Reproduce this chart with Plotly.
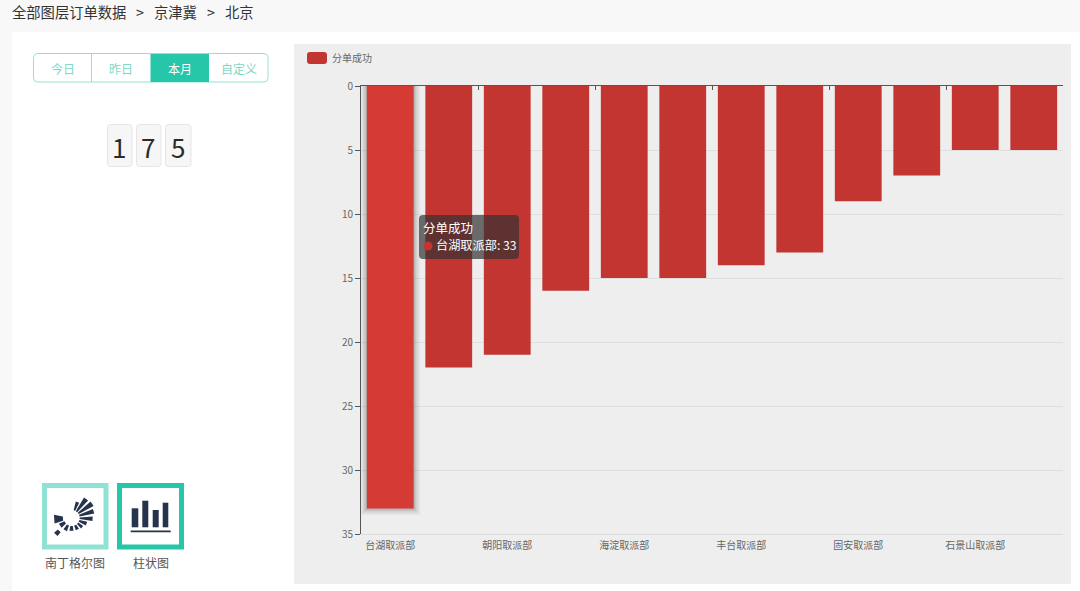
import math
import plotly.graph_objects as go

# Data
categories = ['台湖取派部', '通州取派部', '朝阳取派部', '昌平取派部', '海淀取派部', '大兴取派部',
              '丰台取派部', '顺义取派部', '固安取派部', '房山取派部', '石景山取派部', '门头沟取派部']
values = [33, 22, 21, 16, 15, 15, 14, 13, 9, 7, 5, 5]
tick_labels = ['台湖取派部', '朝阳取派部', '海淀取派部', '丰台取派部', '固安取派部', '石景山取派部']
boundary_ticks = [1.5, 3.5, 5.5, 7.5, 9.5, 11.5]
y_ticks = [0, 5, 10, 15, 20, 25, 30, 35]
series_name = '分单成功'
range_buttons = ['今日', '昨日', '本月', '自定义']
total_digits = list(str(sum(values)))
breadcrumb = ['全部图层订单数据', '&gt;', '京津冀', '&gt;', '北京']

W, H = 1080, 591
L, R, T, B = 361, 17, 86, 57
FONT = 'Noto Sans CJK SC'
RED = '#c23531'
RED_HI = '#d53a35'
TEAL = '#26c6a9'
TEAL_LT = '#90e3d4'
ICON = '#26334d'
AXIS = '#555'


def px(x):
    return (x - L) / (W - L - R)


def py(y):
    return 1 - (y - T) / (H - T - B)


shapes = []
annotations = []


def rect(x0, y0, x1, y1, fill, line=None, lw=0, layer='below'):
    shapes.append(dict(type='rect', xref='paper', yref='paper', layer=layer,
                       x0=px(x0), x1=px(x1), y0=py(y1), y1=py(y0), fillcolor=fill,
                       line=dict(color=line or fill, width=lw)))


def rrect(x0, y0, x1, y1, r, fill, line=None, lw=0, layer='below'):
    def p(x, y):
        return f'{px(x)},{py(y)}'
    d = (f'M{p(x0 + r, y0)} L{p(x1 - r, y0)} Q{p(x1, y0)} {p(x1, y0 + r)} '
         f'L{p(x1, y1 - r)} Q{p(x1, y1)} {p(x1 - r, y1)} L{p(x0 + r, y1)} '
         f'Q{p(x0, y1)} {p(x0, y1 - r)} L{p(x0, y0 + r)} Q{p(x0, y0)} {p(x0 + r, y0)} Z')
    shapes.append(dict(type='path', xref='paper', yref='paper', layer=layer, path=d,
                       fillcolor=fill, line=dict(color=line or fill, width=lw)))


def text(x, y, s, size=12, color='#333', anchor='center'):
    annotations.append(dict(xref='paper', yref='paper', x=px(x), y=py(y), text=s, showarrow=False,
                            xanchor=anchor, yanchor='middle', align='left', borderpad=0, borderwidth=0,
                            font=dict(size=size, color=color, family=FONT)))


def sector(cx, cy, a0, a1, r0, r1):
    pts = []
    for a, r in [(a0, r0), (a0, r1), (a1, r1), (a1, r0)]:
        pts.append(f'{px(cx + r * math.cos(math.radians(a)))},{py(cy - r * math.sin(math.radians(a)))}')
    shapes.append(dict(type='path', xref='paper', yref='paper', layer='below',
                       path='M' + ' L'.join(pts) + ' Z', fillcolor=ICON, line=dict(color=ICON, width=0)))


# page chrome
rect(12, 32, 1080, 591, 'white')
rect(294, 44, 1071, 584, '#eeeeee')
for s, x in zip(breadcrumb, [12, 136, 154, 207, 225]):
    text(x, 11, s, size=14.3, color='#333', anchor='left')

# range buttons
rrect(33.5, 53.5, 268, 82, 4, 'white', TEAL_LT, 1)
rect(150.5, 54, 209, 82, TEAL)
rect(91, 54, 92, 82, TEAL_LT)
for label, cx in zip(range_buttons, [63, 121, 180, 239]):
    text(cx, 68, label, size=12, color='white' if label == '本月' else '#7fd8c6')

# total counter
for digit, (x0, x1) in zip(total_digits, [(107.5, 132), (136.5, 161), (165.5, 191)]):
    rrect(x0, 124.5, x1, 166.5, 3, '#f6f6f6', '#e6e6e6', 1)
    text((x0 + x1) / 2 - 0.5, 146, digit, size=26, color='#2b2b2b')

# chart type icons
rect(44.5, 485.5, 106, 547, 'white', TEAL_LT, 5)
rect(119.5, 485.5, 181.5, 547, 'white', TEAL, 5)
for a0, a1, r0, r1 in [(64, 76, 8, 17), (47, 59, 8, 24), (29, 41, 8, 25), (11, 23, 8, 23), (-8, 4, 8, 21),
                       (-28, -14, 8, 16), (-48, -35, 8, 14), (-72, -56, 8, 13), (-100, -82, 8, 13),
                       (-126, -110, 8, 14), (-156, -136, 8, 14), (170, 198, 9, 18), (-140, -128, 18, 23)]:
    sector(71.7, 518, a0, a1, r0, r1)
for x0, x1, y0 in [(131.7, 138.3, 508.3), (142.3, 148.3, 500.7), (152.7, 158.7, 510), (162.7, 168.3, 502.7)]:
    rect(x0, y0, x1, 527.3, ICON)
rect(130.7, 530.5, 170.7, 532.3, ICON)
text(75, 562.5, '南丁格尔图', size=12, color='#555')
text(151, 562.5, '柱状图', size=12, color='#555')

# legend swatch
rrect(307, 52, 327, 64, 3, RED)
text(332, 57.5, series_name, size=10, color='#666', anchor='left')

# tooltip
rrect(419, 215, 519, 259, 4, 'rgba(50,50,50,0.7)', layer='above')
shapes.append(dict(type='circle', xref='paper', yref='paper', layer='above',
                   x0=px(423.5), x1=px(432.5), y0=py(250.5), y1=py(241.5), fillcolor=RED, line=dict(width=0)))
text(423, 227.5, series_name, size=12.5, color='white', anchor='left')
text(436, 245, f'{categories[0]}: {values[0]}', size=12.2, color='white', anchor='left')

fig = go.Figure()
# soft shadow of the highlighted bar
for lw, alpha in [(14, 0.025), (11, 0.035), (8, 0.05), (5, 0.07), (2, 0.09)]:
    fig.add_trace(go.Bar(x=categories[:1], y=values[:1], width=0.8, cliponaxis=False, hoverinfo='skip',
                         showlegend=False, marker=dict(color='rgba(0,0,0,0)',
                                                       line=dict(color=f'rgba(0,0,0,{alpha})', width=lw))))
fig.add_trace(go.Bar(x=categories, y=values, name=series_name, width=0.8, cliponaxis=False, showlegend=False,
                     marker=dict(color=[RED_HI] + [RED] * (len(values) - 1), line=dict(width=0))))
fig.add_trace(go.Scatter(x=[], y=[], xaxis='x2', showlegend=False))

fig.update_layout(
    width=W, height=H, barmode='overlay', showlegend=False,
    margin=dict(l=L, r=R, t=T, b=B, pad=0),
    paper_bgcolor='#f8f8f8', plot_bgcolor='rgba(0,0,0,0)',
    font=dict(family=FONT, size=10, color='#666'),
    shapes=shapes, annotations=annotations,
    xaxis=dict(type='category', categoryorder='array', categoryarray=categories, range=[-0.5, 11.5],
               tickmode='array', tickvals=tick_labels, ticktext=tick_labels, ticks='outside', ticklen=2,
               tickcolor='rgba(0,0,0,0)', showgrid=False, showline=True, linecolor='#dcdcdc', linewidth=1,
               tickangle=0, tickfont=dict(size=10, color='#666')),
    xaxis2=dict(overlaying='x', side='top', anchor='y', range=[-0.5, 11.5], tickmode='array',
                tickvals=boundary_ticks, ticks='inside', ticklen=4, tickcolor=AXIS, showticklabels=False,
                showgrid=False, zeroline=False, showline=True, linecolor=AXIS, linewidth=1),
    yaxis=dict(range=[35, 0], tickmode='array', tickvals=y_ticks, ticks='outside', ticklen=5, tickcolor=AXIS,
               showline=True, linecolor=AXIS, linewidth=1, gridcolor='#dfdfdf', gridwidth=1, zeroline=False,
               tickfont=dict(size=10, color='#666')),
)

fig.write_html('out.html', config=dict(displayModeBar=False),
               post_script="document.body.style.margin='0';document.body.style.overflow='hidden';")
